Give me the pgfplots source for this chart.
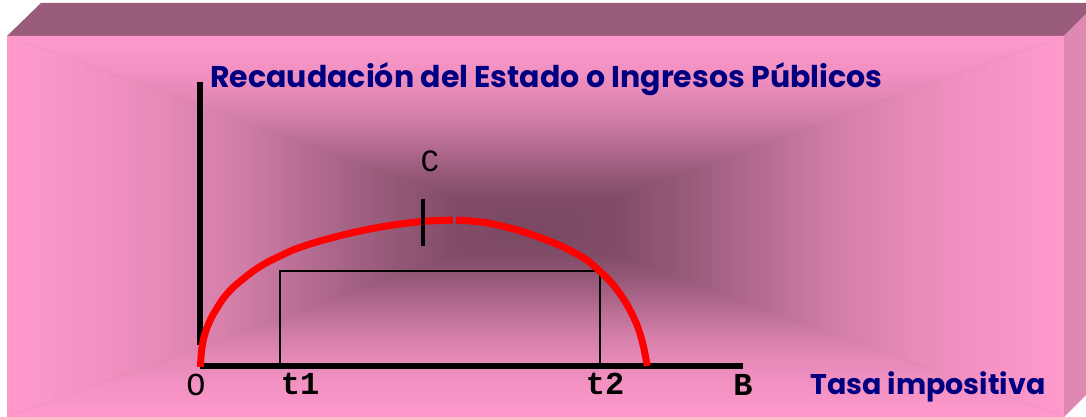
\documentclass[border=0pt]{standalone}
\usepackage{pgfplots}
\pgfplotsset{compat=1.18}
\usepackage{pgfplotstable}
\usepackage{graphicx}
\usepackage{fontspec}
\setmainfont{Liberation Sans}
\newfontfamily\titlefont{Poppins}
\newfontfamily\monofont{Liberation Mono}
\definecolor{pk}{HTML}{FF99CC}
\definecolor{dk}{HTML}{7A4862}
\definecolor{topc}{HTML}{995C7A}
\definecolor{sidec}{HTML}{DE88B2}
\definecolor{navy}{HTML}{000080}
\colorlet{c1}{pk!90!dk}
\colorlet{c2}{pk!80!dk}
\colorlet{c3}{pk!66!dk}
\colorlet{c4}{pk!48!dk}
\colorlet{c5}{pk!32!dk}
\colorlet{c6}{pk!18!dk}
\colorlet{c7}{pk!5!dk}
% pink at 25bp -> dark at 75bp
\pgfdeclarehorizontalshading{hL}{100bp}{color(0bp)=(pk); color(25bp)=(pk); color(34bp)=(c1); color(40.5bp)=(c2); color(47bp)=(c3); color(52.5bp)=(c4); color(57.5bp)=(c5); color(62.5bp)=(c6); color(67.5bp)=(c7); color(75bp)=(dk); color(100bp)=(dk)}
% dark at 25bp -> pink at 75bp
\pgfdeclarehorizontalshading{hR}{100bp}{color(0bp)=(dk); color(25bp)=(dk); color(32.5bp)=(c7); color(37.5bp)=(c6); color(42.5bp)=(c5); color(47.5bp)=(c4); color(53bp)=(c3); color(59.5bp)=(c2); color(66bp)=(c1); color(75bp)=(pk); color(100bp)=(pk)}
\pgfdeclareverticalshading{vB}{100bp}{color(0bp)=(pk); color(25bp)=(pk); color(34bp)=(c1); color(40.5bp)=(c2); color(47bp)=(c3); color(52.5bp)=(c4); color(57.5bp)=(c5); color(62.5bp)=(c6); color(67.5bp)=(c7); color(75bp)=(dk); color(100bp)=(dk)}
\pgfdeclareverticalshading{vT}{100bp}{color(0bp)=(dk); color(25bp)=(dk); color(32.5bp)=(c7); color(37.5bp)=(c6); color(42.5bp)=(c5); color(47.5bp)=(c4); color(53bp)=(c3); color(59.5bp)=(c2); color(66bp)=(c1); color(75bp)=(pk); color(100bp)=(pk)}
\pgfplotstableread{
x y
200.5 50
201.3 64
203.3 77
206.5 88
211 98.5
217 109
224 119.5
233 129.5
243 138
254 146.5
266 154
279 160.5
293 167
308 172.3
323 176.8
338 180.8
353 184.4
368 187.6
383 190.4
398 192.7
413 194.6
428 195.9
442 196.6
453 196.8
}\curveL
\pgfplotstableread{
x y
456 196.8
470 196.1
485 194.4
500 191.5
515 187.6
530 183
545 177.6
560 171.5
574 164.5
587 157
599 146.5
609 137
618 126
626 114
632 103
637 92
641 80
644 68
646 58
647.3 51
}\curveR
\begin{document}
\begin{tikzpicture}
\begin{axis}[scale only axis, width=543pt, height=208.5pt,
  xmin=0, xmax=1086, ymin=0, ymax=417, hide axis, clip=false]
% box background
\fill[white] (0,0) rectangle (1086,417);
\fill[topc] (7,381) -- (41,414) -- (1086,414) -- (1086,403) -- (1064,381) -- cycle;
\fill[sidec] (1064,381) -- (1086,403) -- (1086,22) -- (1064,0) -- cycle;
\fill[c5] (7,0) rectangle (1064,381);
\shade[shading=hL] (7,381) -- (7,0) -- (535,191) -- cycle;
\shade[shading=hR] (1064,381) -- (1064,0) -- (535,191) -- cycle;
\shade[shading=vT] (7,381) -- (1064,381) -- (535,191) -- cycle;
\shade[shading=vB] (7,0) -- (1064,0) -- (535,191) -- cycle;
% rectangle t1-t2
\addplot[black, line width=0.75pt] coordinates {(280,51) (280,146) (600,146) (600,51)};
% axes
\addplot[black, line width=2.75pt] coordinates {(200,335) (200,72)};
\addplot[black, line width=3pt] coordinates {(200,51) (743,51)};
% Laffer curve
\addplot[red, line width=3.5pt, smooth] table {\curveL};
\addplot[red, line width=3.5pt, smooth] table {\curveR};
% C tick
\addplot[black, line width=2pt] coordinates {(423,218) (423,171)};
% labels
\node[anchor=base west, text=navy, inner sep=0pt] at (210,329)
  {\resizebox{336pt}{!}{\titlefont\bfseries Recaudación del Estado o Ingresos Públicos}};
\node[anchor=base west, text=navy, inner sep=0pt] at (810,22)
  {\resizebox{117.5pt}{!}{\titlefont\bfseries Tasa impositiva}};
\node[anchor=base, inner sep=0pt] at (196,21) {\monofont\fontsize{16pt}{16pt}\selectfont O};
\node[anchor=base, inner sep=0pt] at (300,22) {\monofont\bfseries\fontsize{16pt}{16pt}\selectfont t1};
\node[anchor=base, inner sep=0pt] at (605,22) {\monofont\bfseries\fontsize{16pt}{16pt}\selectfont t2};
\node[anchor=base, inner sep=0pt] at (743,21) {\monofont\bfseries\fontsize{16pt}{16pt}\selectfont B};
\node[anchor=base, inner sep=0pt] at (430,245) {\monofont\fontsize{15.5pt}{15.5pt}\selectfont C};
\end{axis}
\end{tikzpicture}
\end{document}
